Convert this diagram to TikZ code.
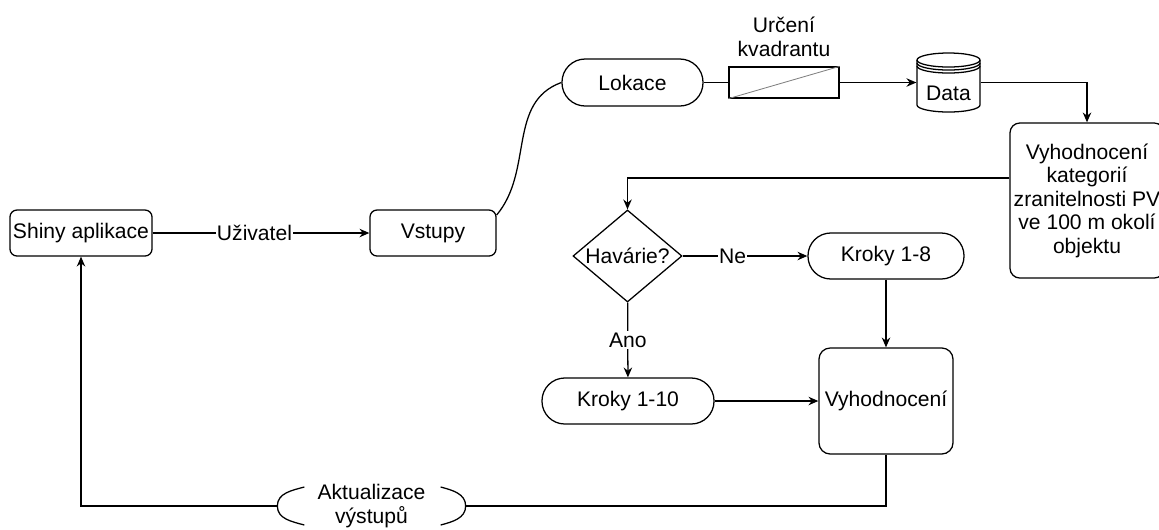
\documentclass[tikz,border=0pt]{standalone}
\usepackage{fontspec}
\setmainfont{Liberation Sans}
\usetikzlibrary{arrows.meta,shapes.geometric}

\begin{document}
\begin{tikzpicture}[x=0.025cm,y=-0.025cm,font=\fontsize{15}{16.7}\selectfont,line width=0.9pt,
  >={Stealth[length=7pt,width=6pt]},
  rbox/.style={draw,rounded corners=5pt,minimum height=1.15cm,inner sep=1pt,align=center},
  pill/.style={draw,rounded corners=0.57cm,minimum height=1.15cm,inner sep=1pt},
  decbox/.style={draw,diamond,aspect=1.18,minimum width=2.725cm,minimum height=2.3cm,inner sep=0pt},
  procbox/.style={draw,minimum width=2.75cm,minimum height=0.775cm},
  lbl/.style={fill=white,inner sep=1pt}]
  \useasboundingbox (0,0) rectangle (1159,529);

  \node[rbox,minimum width=3.55cm] (shiny) at (81,233) {Shiny aplikace};
  \node[rbox,minimum width=3.15cm] (vstupy) at (433,233) {Vstupy};
  \node[pill,minimum width=3.525cm,minimum height=1.175cm,rounded corners=0.58cm] (lokace) at (632.5,82.5) {Lokace};
  \node[procbox] (kvadrant) at (784,82.5) {};
  \node[align=center] (kvadlbl) at (784,37) {Určení\\kvadrantu};
  \node[minimum width=1.575cm,minimum height=1.475cm] (data) at (948.5,82.5) {};
  \node (datalbl) at (948.5,93) {Data};
  \node[rbox,minimum width=3.85cm,minimum height=3.875cm,rounded corners=7pt] (kategorie) at (1087,200.5)
    {Vyhodnocení\\kategorií\\zranitelnosti PV\\ve 100 m okolí\\objektu};
  \node[decbox] (havarie) at (627.5,256) {Havárie?};
  \node[pill,minimum width=3.9cm] (kroky8) at (886,256) {Kroky 1-8};
  \node[pill,minimum width=4.3cm] (kroky10) at (628,401) {Kroky 1-10};
  \node[rbox,minimum width=3.35cm,minimum height=2.65cm,rounded corners=8pt] (vyhodnoceni) at (886,401) {Vyhodnocení};
  \node[align=center,minimum width=4.675cm,inner sep=0pt] (aktual) at (371.5,506) {Aktualizace\\výstupů};

  \draw[gray,line width=0.6pt] (kvadrant.south west) -- (kvadrant.north east);
  \draw (917,60) -- (917,105) arc[start angle=180,end angle=360,x radius=0.7875cm,y radius=0.175cm] -- (980,60);
  \draw (948.5,60) ellipse[x radius=0.7875cm,y radius=0.175cm];
  \draw (917,63) arc[start angle=180,end angle=360,x radius=0.7875cm,y radius=0.175cm];
  \draw (917,66) arc[start angle=180,end angle=360,x radius=0.7875cm,y radius=0.175cm];
  \draw ([shift={(27,-19)}]aktual.west) to[out=195,in=90] (aktual.west) to[out=-90,in=165] ([shift={(27,19)}]aktual.west);
  \draw ([shift={(-25,-19)}]aktual.east) to[out=-15,in=90] (aktual.east) to[out=-90,in=15] ([shift={(-25,19)}]aktual.east);

  \draw[->] (shiny) -- node[lbl,pos=0.47] {Uživatel} (vstupy);
  \draw ([yshift=0.45cm]vstupy.east) to[out=50,in=200] (lokace.west);
  \draw (lokace) -- (kvadrant);
  \draw[->] (kvadrant) -- (data);
  \draw[->] (data.east) -| (kategorie.north);
  \draw[->] ([yshift=0.5625cm]kategorie.west) -| (havarie.north);
  \draw[->] (havarie) -- node[lbl,pos=0.4] {Ne} (kroky8);
  \draw[->] (havarie) -- node[lbl] {Ano} (kroky10);
  \draw[->] (kroky8) -- (vyhodnoceni);
  \draw[->] (kroky10) -- (vyhodnoceni);
  \draw (vyhodnoceni.south) |- (aktual.east);
  \draw[->] (aktual.west) -| (shiny.south);
\end{tikzpicture}
\end{document}
